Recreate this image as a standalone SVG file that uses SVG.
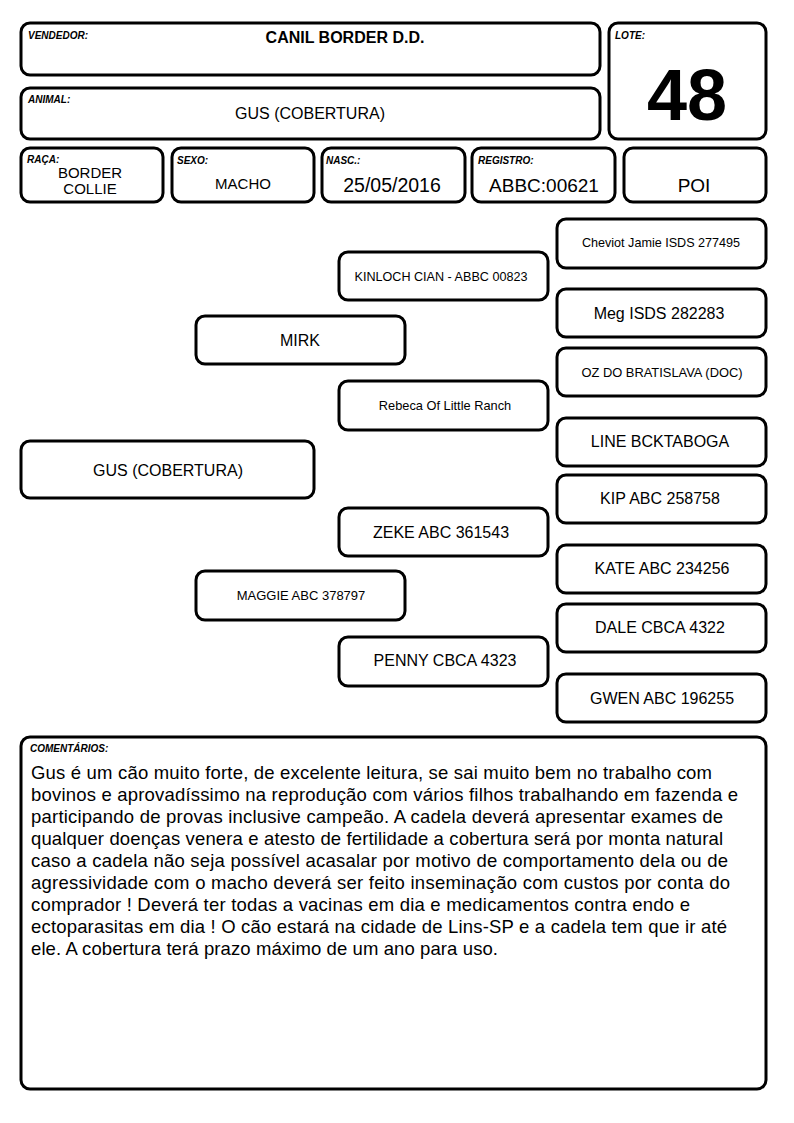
<svg xmlns="http://www.w3.org/2000/svg" width="794" height="1123" viewBox="0 0 794 1123">
<style>
.b{fill:#fff;stroke:#000;stroke-width:3}
text{font-family:"Liberation Sans",Arial,sans-serif;fill:#000}
.l{font-size:10px;font-weight:bold;font-style:italic}
.c{text-anchor:middle}
.t16{font-size:16px}
.t13{font-size:12.6px}
.t18{font-size:19px}
.body{font-size:18.5px}
</style>
<rect width="794" height="1123" fill="#fff"/>
<g id="vendedor"><rect class="b" x="21" y="23" width="579" height="52" rx="9"/><text class="l" x="28" y="39">VENDEDOR:</text><text class="c" x="345" y="43" font-size="16" font-weight="bold">CANIL BORDER D.D.</text></g>
<g id="animal"><rect class="b" x="21" y="88" width="579" height="51" rx="9"/><text class="l" x="28" y="103">ANIMAL:</text><text class="c t16" x="310" y="119">GUS (COBERTURA)</text></g>
<g id="lote"><rect class="b" x="609" y="23" width="157" height="116" rx="9"/><text class="l" x="615" y="39">LOTE:</text><text class="c" x="687" y="120" font-size="72" font-weight="bold">48</text></g>
<g id="raca"><rect class="b" x="21" y="148" width="142" height="54" rx="9"/><text class="l" x="27" y="163">RAÇA:</text><text class="c" x="90" y="178" font-size="15">BORDER</text><text class="c" x="90" y="194" font-size="15">COLLIE</text></g>
<g id="sexo"><rect class="b" x="172" y="148" width="142" height="54" rx="9"/><text class="l" x="177" y="164">SEXO:</text><text class="c" x="243" y="189" font-size="15">MACHO</text></g>
<g id="nasc"><rect class="b" x="322" y="148" width="143" height="54" rx="9"/><text class="l" x="326" y="164">NASC.:</text><text class="c" x="392" y="192" font-size="19.5">25/05/2016</text></g>
<g id="registro"><rect class="b" x="472" y="148" width="143" height="54" rx="9"/><text class="l" x="478" y="164">REGISTRO:</text><text class="c t18" x="544" y="192">ABBC:00621</text></g>
<g id="poi"><rect class="b" x="624" y="148" width="142" height="54" rx="9"/><text class="c t18" x="694" y="192">POI</text></g>

<g id="gus"><rect class="b" x="21" y="441" width="293" height="57" rx="9"/><text class="c t16" x="168" y="476">GUS (COBERTURA)</text></g>
<g id="mirk"><rect class="b" x="196" y="316" width="209" height="48" rx="9"/><text class="c t16" x="300" y="346">MIRK</text></g>
<g id="maggie"><rect class="b" x="196" y="571" width="209" height="49" rx="9"/><text class="c" x="301" y="600" font-size="13">MAGGIE ABC 378797</text></g>
<g id="kinloch"><rect class="b" x="339" y="252" width="209" height="48" rx="9"/><text class="c t13" x="441" y="281">KINLOCH CIAN - ABBC 00823</text></g>
<g id="rebeca"><rect class="b" x="339" y="381" width="209" height="49" rx="9"/><text class="c" x="445" y="410" font-size="12.8">Rebeca Of Little Ranch</text></g>
<g id="zeke"><rect class="b" x="339" y="508" width="209" height="48" rx="9"/><text class="c t16" x="441" y="538">ZEKE ABC 361543</text></g>
<g id="penny"><rect class="b" x="339" y="637" width="209" height="49" rx="9"/><text class="c t16" x="445" y="666">PENNY CBCA 4323</text></g>
<g id="cheviot"><rect class="b" x="557" y="219" width="209" height="49" rx="9"/><text class="c t13" x="661" y="247">Cheviot Jamie ISDS 277495</text></g>
<g id="meg"><rect class="b" x="557" y="289" width="209" height="48" rx="9"/><text class="c t16" x="659" y="319">Meg ISDS 282283</text></g>
<g id="oz"><rect class="b" x="557" y="348" width="209" height="48" rx="9"/><text class="c" x="662" y="377" font-size="12.9">OZ DO BRATISLAVA (DOC)</text></g>
<g id="line"><rect class="b" x="557" y="418" width="209" height="48" rx="9"/><text class="c t16" x="660" y="447">LINE BCKTABOGA</text></g>
<g id="kip"><rect class="b" x="557" y="475" width="209" height="48" rx="9"/><text class="c t16" x="660" y="504">KIP ABC 258758</text></g>
<g id="kate"><rect class="b" x="557" y="545" width="209" height="48" rx="9"/><text class="c t16" x="662" y="574">KATE ABC 234256</text></g>
<g id="dale"><rect class="b" x="557" y="604" width="209" height="48" rx="9"/><text class="c t16" x="660" y="633">DALE CBCA 4322</text></g>
<g id="gwen"><rect class="b" x="557" y="674" width="209" height="48" rx="9"/><text class="c t16" x="662" y="704">GWEN ABC 196255</text></g>
<g id="connectors"/>

<g id="comentarios"><rect class="b" x="21" y="737" width="745" height="352" rx="9"/><text class="l" x="30" y="752">COMENTÁRIOS:</text>
<text class="body" x="31" y="779" textLength="681" lengthAdjust="spacing">Gus é um cão muito forte, de excelente leitura, se sai muito bem no trabalho com</text>
<text class="body" x="31" y="801" textLength="707" lengthAdjust="spacing">bovinos e aprovadíssimo na reprodução com vários filhos trabalhando em fazenda e</text>
<text class="body" x="31" y="823" textLength="692" lengthAdjust="spacing">participando de provas inclusive campeão. A cadela deverá apresentar exames de</text>
<text class="body" x="31" y="845" textLength="692" lengthAdjust="spacing">qualquer doenças venera e atesto de fertilidade a cobertura será por monta natural</text>
<text class="body" x="31" y="867" textLength="697" lengthAdjust="spacing">caso a cadela não seja possível acasalar por motivo de comportamento dela ou de</text>
<text class="body" x="31" y="889" textLength="699" lengthAdjust="spacing">agressividade com o macho deverá ser feito inseminação com custos por conta do</text>
<text class="body" x="31" y="911" textLength="659" lengthAdjust="spacing">comprador ! Deverá ter todas a vacinas em dia e medicamentos contra endo e</text>
<text class="body" x="31" y="933" textLength="696" lengthAdjust="spacing">ectoparasitas em dia ! O cão estará na cidade de Lins-SP e a cadela tem que ir até</text>
<text class="body" x="31" y="955" textLength="467" lengthAdjust="spacing">ele. A cobertura terá prazo máximo de um ano para uso.</text>
</g>
</svg>
